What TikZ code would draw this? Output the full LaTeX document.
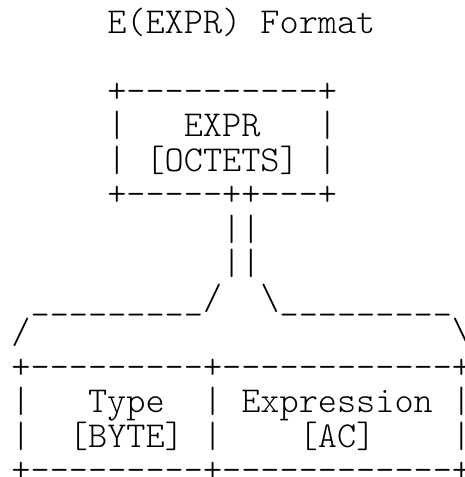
\documentclass[tikz,border=0pt]{standalone}
\usepackage{fontspec}
\newfontfamily\asciifont{Latin Modern Mono Light}
\newcommand{\cx}[1]{11.5+19.15*#1}
\newcommand{\ry}[1]{-(33.3+34.5*#1)}
\begin{document}
\begin{tikzpicture}[x=1pt,y=1pt,
  asciirow/.style={anchor=base west, inner sep=0pt, outer sep=0pt,
    font=\asciifont\fontsize{36.48}{40}\selectfont}]
\useasboundingbox (0,0) rectangle (465,-477);
\node[asciirow] (title) at ({\cx{5}},{\ry{0}}) {E(EXPR)~Format};
\node[asciirow] (exprtop) at ({\cx{5}},{\ry{2}}) {+----------+};
\node[asciirow] (exprname) at ({\cx{5}},{\ry{3}}) {|~~~EXPR~~~|};
\node[asciirow] (exprtype) at ({\cx{5}},{\ry{4}}) {|~[OCTETS]~|};
\node[asciirow] (exprbot) at ({\cx{5}},{\ry{5}}) {+-----++---+};
\node[asciirow] (pipeA) at ({\cx{11}},{\ry{6}}) {||};
\node[asciirow] (pipeB) at ({\cx{11}},{\ry{7}}) {||};
\node[asciirow] (split) at ({\cx{1}},{\ry{8}}) {\_\_\_\_\_\_\_\_\_/~~\textbackslash\_\_\_\_\_\_\_\_\_};
\node[asciirow] (slopeL) at ({\cx{0}},{\ry{9}}) {/};
\node[asciirow] (slopeR) at ({\cx{23}},{\ry{9}}) {\textbackslash};
\node[asciirow] (rowtop) at ({\cx{0}},{\ry{10}}) {+---------+------------+};
\node[asciirow] (rowname) at ({\cx{0}},{\ry{11}}) {|~~~Type~~|~Expression~|};
\node[asciirow] (rowtype) at ({\cx{0}},{\ry{12}}) {|~~[BYTE]~|~~~~[AC]~~~~|};
\node[asciirow] (rowbot) at ({\cx{0}},{\ry{13}}) {+---------+------------+};
\end{tikzpicture}
\end{document}
